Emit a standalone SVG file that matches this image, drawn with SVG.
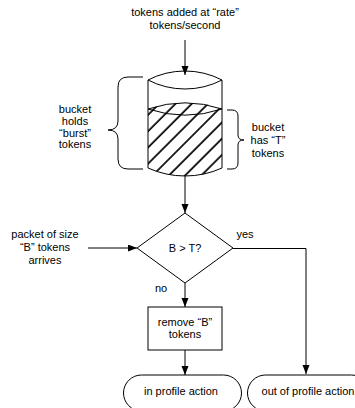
<svg xmlns="http://www.w3.org/2000/svg" width="355" height="408" viewBox="0 0 355 408">
  <defs>
    <style>
      text { font-family: "Liberation Sans", Arial, sans-serif; font-size: 11px; fill: #000; text-anchor: middle; }
      .ln { fill: none; stroke: #000; stroke-width: 1; }
      .box { fill: #fff; stroke: #000; stroke-width: 1; }
    </style>
    <marker id="arrow" markerUnits="userSpaceOnUse" markerWidth="10" markerHeight="8" refX="9" refY="3.5" orient="auto">
      <path d="M0,0 L9,3.5 L0,7 z" fill="#000"/>
    </marker>
    <pattern id="hatch" patternUnits="userSpaceOnUse" width="11.5" height="11.5" patternTransform="rotate(45)">
      <line x1="2" y1="0" x2="2" y2="11.5" stroke="#000" stroke-width="1.7"/>
    </pattern>
  </defs>

  <!-- token source label -->
  <g id="source">
    <text x="185" y="16">tokens added at “rate”</text>
    <text x="185" y="29">tokens/second</text>
  </g>

  <!-- bucket cylinder with hatched token level -->
  <g id="bucket">
    <path d="M148,109 A117,117 0 0 1 222,109 L222,168 A89.6,89.6 0 0 1 148,168 Z" fill="url(#hatch)" stroke="none"/>
    <path class="ln" d="M148,80 L148,168 A89.6,89.6 0 0 0 222,168 L222,80"/>
    <path class="ln" d="M148,80 A80.6,80.6 0 0 1 222,80 A80.6,80.6 0 0 1 148,80 Z"/>
    <path class="ln" d="M148,109 A117,117 0 0 1 222,109 A117,117 0 0 1 148,109 Z"/>
  </g>

  <!-- brace: full bucket capacity -->
  <g id="burst-label">
    <path class="ln" d="M143,77 L128,77 Q118,77 118,87 L118,121 Q118,130 108,130 Q118,130 118,139 L118,159 Q118,169 128,169 L143,169"/>
    <text x="75" y="113">bucket</text>
    <text x="75" y="125">holds</text>
    <text x="75" y="136.5">“burst”</text>
    <text x="75" y="148">tokens</text>
  </g>

  <!-- brace: current token level -->
  <g id="level-label">
    <path class="ln" d="M227,110 L232,110 Q238,110 238,116 L238,135 Q238,140 244,140 Q238,140 238,145 L238,163 Q238,169 232,169 L227,169"/>
    <text x="268" y="131">bucket</text>
    <text x="268" y="144">has “T”</text>
    <text x="268" y="157">tokens</text>
  </g>

  <!-- incoming packet label -->
  <g id="packet">
    <text x="45" y="238">packet of size</text>
    <text x="45" y="251">“B” tokens</text>
    <text x="45" y="264">arrives</text>
  </g>

  <!-- decision -->
  <g id="decision">
    <path class="box" d="M185,213 L233,248 L185,283 L137,248 Z"/>
    <text x="185" y="252">B &gt; T?</text>
  </g>

  <!-- remove tokens step -->
  <g id="remove">
    <rect class="box" x="148" y="307" width="74" height="43"/>
    <text x="185" y="326">remove “B”</text>
    <text x="185" y="338">tokens</text>
  </g>

  <!-- outcomes -->
  <g id="in-profile">
    <rect class="box" x="123.5" y="375" width="118" height="36" rx="18" ry="18"/>
    <text x="181" y="395">in profile action</text>
  </g>
  <g id="out-profile">
    <rect class="box" x="247.5" y="375" width="122" height="36" rx="18" ry="18"/>
    <text x="308" y="395">out of profile action</text>
  </g>

  <!-- connectors -->
  <g id="connectors">
    <line class="ln" x1="185" y1="40" x2="185" y2="75" marker-end="url(#arrow)"/>
    <line class="ln" x1="185" y1="176" x2="185" y2="213" marker-end="url(#arrow)"/>
    <line class="ln" x1="88" y1="248" x2="137" y2="248" marker-end="url(#arrow)"/>
    <polyline class="ln" points="233,248.5 306,248.5 306,374" marker-end="url(#arrow)"/>
    <line class="ln" x1="185" y1="283" x2="185" y2="307" marker-end="url(#arrow)"/>
    <line class="ln" x1="185" y1="350" x2="185" y2="375" marker-end="url(#arrow)"/>
    <text x="245" y="238">yes</text>
    <text x="161" y="292">no</text>
  </g>
</svg>
